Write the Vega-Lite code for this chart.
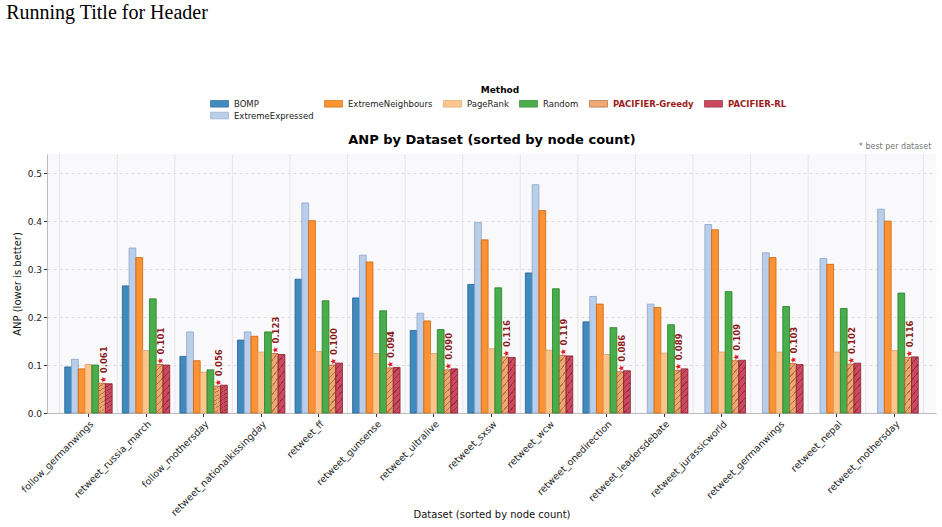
{
  "$schema": "https://vega.github.io/schema/vega-lite/v6.json",
  "width": 889,
  "height": 259,
  "autosize": {"type": "none"},
  "padding": {"left": 47, "top": 154, "right": 6, "bottom": 114},
  "background": "white",
  "config": {
    "font": "DejaVu Sans",
    "view": {"fill": "#f9f9fc", "stroke": null},
    "axis": {"labelFont": "DejaVu Sans", "titleFont": "DejaVu Sans", "labelColor": "#222", "titleColor": "#111", "tickColor": "#333", "domainColor": "#bbbbbb", "titleFontWeight": "normal"}
  },
  "title": {
    "text": "Running Title for Header",
    "anchor": "start",
    "frame": "bounds",
    "font": "Liberation Serif",
    "fontSize": 20,
    "fontWeight": "normal",
    "color": "#000",
    "offset": 63,
    "dx": -6
  },
  "datasets": {
    "anp": [
      {"dataset": "follow_germanwings", "method": "BOMP", "anp": 0.096},
      {"dataset": "follow_germanwings", "method": "ExtremeExpressed", "anp": 0.112},
      {"dataset": "follow_germanwings", "method": "ExtremeNeighbours", "anp": 0.092},
      {"dataset": "follow_germanwings", "method": "PageRank", "anp": 0.101},
      {"dataset": "follow_germanwings", "method": "Random", "anp": 0.100},
      {"dataset": "follow_germanwings", "method": "PACIFIER-Greedy", "anp": 0.062},
      {"dataset": "follow_germanwings", "method": "PACIFIER-RL", "anp": 0.061},
      {"dataset": "retweet_russia_march", "method": "BOMP", "anp": 0.265},
      {"dataset": "retweet_russia_march", "method": "ExtremeExpressed", "anp": 0.344},
      {"dataset": "retweet_russia_march", "method": "ExtremeNeighbours", "anp": 0.324},
      {"dataset": "retweet_russia_march", "method": "PageRank", "anp": 0.130},
      {"dataset": "retweet_russia_march", "method": "Random", "anp": 0.238},
      {"dataset": "retweet_russia_march", "method": "PACIFIER-Greedy", "anp": 0.101},
      {"dataset": "retweet_russia_march", "method": "PACIFIER-RL", "anp": 0.100},
      {"dataset": "follow_mothersday", "method": "BOMP", "anp": 0.118},
      {"dataset": "follow_mothersday", "method": "ExtremeExpressed", "anp": 0.169},
      {"dataset": "follow_mothersday", "method": "ExtremeNeighbours", "anp": 0.109},
      {"dataset": "follow_mothersday", "method": "PageRank", "anp": 0.085},
      {"dataset": "follow_mothersday", "method": "Random", "anp": 0.090},
      {"dataset": "follow_mothersday", "method": "PACIFIER-Greedy", "anp": 0.056},
      {"dataset": "follow_mothersday", "method": "PACIFIER-RL", "anp": 0.058},
      {"dataset": "retweet_nationalkissingday", "method": "BOMP", "anp": 0.152},
      {"dataset": "retweet_nationalkissingday", "method": "ExtremeExpressed", "anp": 0.169},
      {"dataset": "retweet_nationalkissingday", "method": "ExtremeNeighbours", "anp": 0.160},
      {"dataset": "retweet_nationalkissingday", "method": "PageRank", "anp": 0.127},
      {"dataset": "retweet_nationalkissingday", "method": "Random", "anp": 0.169},
      {"dataset": "retweet_nationalkissingday", "method": "PACIFIER-Greedy", "anp": 0.124},
      {"dataset": "retweet_nationalkissingday", "method": "PACIFIER-RL", "anp": 0.122},
      {"dataset": "retweet_ff", "method": "BOMP", "anp": 0.279},
      {"dataset": "retweet_ff", "method": "ExtremeExpressed", "anp": 0.438},
      {"dataset": "retweet_ff", "method": "ExtremeNeighbours", "anp": 0.401},
      {"dataset": "retweet_ff", "method": "PageRank", "anp": 0.128},
      {"dataset": "retweet_ff", "method": "Random", "anp": 0.234},
      {"dataset": "retweet_ff", "method": "PACIFIER-Greedy", "anp": 0.100},
      {"dataset": "retweet_ff", "method": "PACIFIER-RL", "anp": 0.104},
      {"dataset": "retweet_gunsense", "method": "BOMP", "anp": 0.240},
      {"dataset": "retweet_gunsense", "method": "ExtremeExpressed", "anp": 0.329},
      {"dataset": "retweet_gunsense", "method": "ExtremeNeighbours", "anp": 0.315},
      {"dataset": "retweet_gunsense", "method": "PageRank", "anp": 0.124},
      {"dataset": "retweet_gunsense", "method": "Random", "anp": 0.213},
      {"dataset": "retweet_gunsense", "method": "PACIFIER-Greedy", "anp": 0.094},
      {"dataset": "retweet_gunsense", "method": "PACIFIER-RL", "anp": 0.095},
      {"dataset": "retweet_ultralive", "method": "BOMP", "anp": 0.172},
      {"dataset": "retweet_ultralive", "method": "ExtremeExpressed", "anp": 0.208},
      {"dataset": "retweet_ultralive", "method": "ExtremeNeighbours", "anp": 0.192},
      {"dataset": "retweet_ultralive", "method": "PageRank", "anp": 0.124},
      {"dataset": "retweet_ultralive", "method": "Random", "anp": 0.174},
      {"dataset": "retweet_ultralive", "method": "PACIFIER-Greedy", "anp": 0.090},
      {"dataset": "retweet_ultralive", "method": "PACIFIER-RL", "anp": 0.092},
      {"dataset": "retweet_sxsw", "method": "BOMP", "anp": 0.268},
      {"dataset": "retweet_sxsw", "method": "ExtremeExpressed", "anp": 0.397},
      {"dataset": "retweet_sxsw", "method": "ExtremeNeighbours", "anp": 0.361},
      {"dataset": "retweet_sxsw", "method": "PageRank", "anp": 0.134},
      {"dataset": "retweet_sxsw", "method": "Random", "anp": 0.261},
      {"dataset": "retweet_sxsw", "method": "PACIFIER-Greedy", "anp": 0.117},
      {"dataset": "retweet_sxsw", "method": "PACIFIER-RL", "anp": 0.116},
      {"dataset": "retweet_wcw", "method": "BOMP", "anp": 0.292},
      {"dataset": "retweet_wcw", "method": "ExtremeExpressed", "anp": 0.476},
      {"dataset": "retweet_wcw", "method": "ExtremeNeighbours", "anp": 0.422},
      {"dataset": "retweet_wcw", "method": "PageRank", "anp": 0.131},
      {"dataset": "retweet_wcw", "method": "Random", "anp": 0.259},
      {"dataset": "retweet_wcw", "method": "PACIFIER-Greedy", "anp": 0.120},
      {"dataset": "retweet_wcw", "method": "PACIFIER-RL", "anp": 0.119},
      {"dataset": "retweet_onedirection", "method": "BOMP", "anp": 0.190},
      {"dataset": "retweet_onedirection", "method": "ExtremeExpressed", "anp": 0.243},
      {"dataset": "retweet_onedirection", "method": "ExtremeNeighbours", "anp": 0.227},
      {"dataset": "retweet_onedirection", "method": "PageRank", "anp": 0.122},
      {"dataset": "retweet_onedirection", "method": "Random", "anp": 0.178},
      {"dataset": "retweet_onedirection", "method": "PACIFIER-Greedy", "anp": 0.086},
      {"dataset": "retweet_onedirection", "method": "PACIFIER-RL", "anp": 0.088},
      {"dataset": "retweet_leadersdebate", "method": "ExtremeExpressed", "anp": 0.227},
      {"dataset": "retweet_leadersdebate", "method": "ExtremeNeighbours", "anp": 0.220},
      {"dataset": "retweet_leadersdebate", "method": "PageRank", "anp": 0.125},
      {"dataset": "retweet_leadersdebate", "method": "Random", "anp": 0.184},
      {"dataset": "retweet_leadersdebate", "method": "PACIFIER-Greedy", "anp": 0.089},
      {"dataset": "retweet_leadersdebate", "method": "PACIFIER-RL", "anp": 0.092},
      {"dataset": "retweet_jurassicworld", "method": "ExtremeExpressed", "anp": 0.393},
      {"dataset": "retweet_jurassicworld", "method": "ExtremeNeighbours", "anp": 0.382},
      {"dataset": "retweet_jurassicworld", "method": "PageRank", "anp": 0.127},
      {"dataset": "retweet_jurassicworld", "method": "Random", "anp": 0.253},
      {"dataset": "retweet_jurassicworld", "method": "PACIFIER-Greedy", "anp": 0.109},
      {"dataset": "retweet_jurassicworld", "method": "PACIFIER-RL", "anp": 0.110},
      {"dataset": "retweet_germanwings", "method": "ExtremeExpressed", "anp": 0.334},
      {"dataset": "retweet_germanwings", "method": "ExtremeNeighbours", "anp": 0.324},
      {"dataset": "retweet_germanwings", "method": "PageRank", "anp": 0.127},
      {"dataset": "retweet_germanwings", "method": "Random", "anp": 0.222},
      {"dataset": "retweet_germanwings", "method": "PACIFIER-Greedy", "anp": 0.103},
      {"dataset": "retweet_germanwings", "method": "PACIFIER-RL", "anp": 0.101},
      {"dataset": "retweet_nepal", "method": "ExtremeExpressed", "anp": 0.322},
      {"dataset": "retweet_nepal", "method": "ExtremeNeighbours", "anp": 0.310},
      {"dataset": "retweet_nepal", "method": "PageRank", "anp": 0.127},
      {"dataset": "retweet_nepal", "method": "Random", "anp": 0.218},
      {"dataset": "retweet_nepal", "method": "PACIFIER-Greedy", "anp": 0.102},
      {"dataset": "retweet_nepal", "method": "PACIFIER-RL", "anp": 0.104},
      {"dataset": "retweet_mothersday", "method": "ExtremeExpressed", "anp": 0.425},
      {"dataset": "retweet_mothersday", "method": "ExtremeNeighbours", "anp": 0.400},
      {"dataset": "retweet_mothersday", "method": "PageRank", "anp": 0.130},
      {"dataset": "retweet_mothersday", "method": "Random", "anp": 0.250},
      {"dataset": "retweet_mothersday", "method": "PACIFIER-Greedy", "anp": 0.116},
      {"dataset": "retweet_mothersday", "method": "PACIFIER-RL", "anp": 0.117}
    ],
    "best": [
      {"dataset": "follow_germanwings", "method": "PACIFIER-Greedy", "anp": 0.062, "star": "★", "label": "0.061"},
      {"dataset": "retweet_russia_march", "method": "PACIFIER-Greedy", "anp": 0.101, "star": "★", "label": "0.101"},
      {"dataset": "follow_mothersday", "method": "PACIFIER-Greedy", "anp": 0.056, "star": "★", "label": "0.056"},
      {"dataset": "retweet_nationalkissingday", "method": "PACIFIER-Greedy", "anp": 0.124, "star": "★", "label": "0.123"},
      {"dataset": "retweet_ff", "method": "PACIFIER-Greedy", "anp": 0.100, "star": "★", "label": "0.100"},
      {"dataset": "retweet_gunsense", "method": "PACIFIER-Greedy", "anp": 0.094, "star": "★", "label": "0.094"},
      {"dataset": "retweet_ultralive", "method": "PACIFIER-Greedy", "anp": 0.090, "star": "★", "label": "0.090"},
      {"dataset": "retweet_sxsw", "method": "PACIFIER-Greedy", "anp": 0.117, "star": "★", "label": "0.116"},
      {"dataset": "retweet_wcw", "method": "PACIFIER-Greedy", "anp": 0.120, "star": "★", "label": "0.119"},
      {"dataset": "retweet_onedirection", "method": "PACIFIER-Greedy", "anp": 0.086, "star": "★", "label": "0.086"},
      {"dataset": "retweet_leadersdebate", "method": "PACIFIER-Greedy", "anp": 0.089, "star": "★", "label": "0.089"},
      {"dataset": "retweet_jurassicworld", "method": "PACIFIER-Greedy", "anp": 0.109, "star": "★", "label": "0.109"},
      {"dataset": "retweet_germanwings", "method": "PACIFIER-Greedy", "anp": 0.103, "star": "★", "label": "0.103"},
      {"dataset": "retweet_nepal", "method": "PACIFIER-Greedy", "anp": 0.102, "star": "★", "label": "0.102"},
      {"dataset": "retweet_mothersday", "method": "PACIFIER-Greedy", "anp": 0.116, "star": "★", "label": "0.116"}
    ],
    "names": [
      {"dataset": "follow_germanwings"}, {"dataset": "retweet_russia_march"}, {"dataset": "follow_mothersday"},
      {"dataset": "retweet_nationalkissingday"}, {"dataset": "retweet_ff"}, {"dataset": "retweet_gunsense"},
      {"dataset": "retweet_ultralive"}, {"dataset": "retweet_sxsw"}, {"dataset": "retweet_wcw"},
      {"dataset": "retweet_onedirection"}, {"dataset": "retweet_leadersdebate"}, {"dataset": "retweet_jurassicworld"},
      {"dataset": "retweet_germanwings"}, {"dataset": "retweet_nepal"}, {"dataset": "retweet_mothersday"}
    ],
    "note": [{"dataset": "retweet_mothersday", "anp": 0.54, "text": "* best per dataset"}]
  },
  "resolve": {"axis": {"x": "independent"}},
  "layer": [
    {
      "data": {"name": "names"},
      "mark": {"type": "rule", "color": "#e6e6ea", "strokeWidth": 1},
      "encoding": {
        "x": {
          "field": "dataset", "type": "nominal", "bandPosition": 0,
          "scale": {"domain": ["follow_germanwings", "retweet_russia_march", "follow_mothersday", "retweet_nationalkissingday", "retweet_ff", "retweet_gunsense", "retweet_ultralive", "retweet_sxsw", "retweet_wcw", "retweet_onedirection", "retweet_leadersdebate", "retweet_jurassicworld", "retweet_germanwings", "retweet_nepal", "retweet_mothersday"], "paddingInner": 0, "paddingOuter": 0.22},
          "axis": {"orient": "top", "labels": false, "ticks": false, "domain": false, "grid": false, "title": "ANP by Dataset (sorted by node count)", "titleFontSize": 13, "titleFontWeight": "bold", "titleColor": "#000", "titlePadding": 8}
        }
      }
    },
    {
      "data": {"name": "note"},
      "mark": {"type": "rule", "color": "#e6e6ea", "strokeWidth": 1},
      "encoding": {
        "x": {"field": "dataset", "type": "nominal", "bandPosition": 1, "axis": null}
      }
    },
    {
      "data": {"name": "anp"},
      "mark": {"type": "bar", "fillOpacity": 0.85, "strokeWidth": 0.8},
      "encoding": {
        "x": {
          "field": "dataset", "type": "nominal",
          "axis": {"orient": "bottom", "title": "Dataset (sorted by node count)", "labelAngle": -45, "labelAlign": "right", "labelBaseline": "top", "labelFontSize": 9.5, "labelPadding": 2, "tickSize": 3.5, "grid": false, "titleFontSize": 10, "titleY": 96, "titleBaseline": "top"}
        },
        "xOffset": {
          "field": "method", "type": "nominal",
          "scale": {"domain": ["BOMP", "ExtremeExpressed", "ExtremeNeighbours", "PageRank", "Random", "PACIFIER-Greedy", "PACIFIER-RL"], "paddingInner": 0, "paddingOuter": 0.75}
        },
        "y": {
          "field": "anp", "type": "quantitative",
          "scale": {"domain": [0, 0.54], "nice": false},
          "axis": {"title": "ANP (lower is better)", "values": [0, 0.1, 0.2, 0.3, 0.4, 0.5], "format": ".1f", "grid": true, "gridDash": [3, 3], "gridColor": "#dddddd", "tickSize": 3.5, "labelFontSize": 9, "labelPadding": 2, "titleFontSize": 10, "titlePadding": 5}
        },
        "color": {
          "condition": [
            {"test": "datum.method === 'PACIFIER-Greedy'", "value": {"gradient": "linear", "x1": 0, "y1": 0, "x2": 0.17, "y2": 1.13, "stops": [
              {"offset": 0, "color": "#ea9a5c"},
              {"offset": 0.1, "color": "#ea9a5c"}, {"offset": 0.1, "color": "#a85e26"}, {"offset": 0.125, "color": "#a85e26"}, {"offset": 0.125, "color": "#ea9a5c"},
              {"offset": 0.225, "color": "#ea9a5c"}, {"offset": 0.225, "color": "#a85e26"}, {"offset": 0.25, "color": "#a85e26"}, {"offset": 0.25, "color": "#ea9a5c"},
              {"offset": 0.35, "color": "#ea9a5c"}, {"offset": 0.35, "color": "#a85e26"}, {"offset": 0.375, "color": "#a85e26"}, {"offset": 0.375, "color": "#ea9a5c"},
              {"offset": 0.475, "color": "#ea9a5c"}, {"offset": 0.475, "color": "#a85e26"}, {"offset": 0.5, "color": "#a85e26"}, {"offset": 0.5, "color": "#ea9a5c"},
              {"offset": 0.6, "color": "#ea9a5c"}, {"offset": 0.6, "color": "#a85e26"}, {"offset": 0.625, "color": "#a85e26"}, {"offset": 0.625, "color": "#ea9a5c"},
              {"offset": 0.725, "color": "#ea9a5c"}, {"offset": 0.725, "color": "#a85e26"}, {"offset": 0.75, "color": "#a85e26"}, {"offset": 0.75, "color": "#ea9a5c"},
              {"offset": 0.85, "color": "#ea9a5c"}, {"offset": 0.85, "color": "#a85e26"}, {"offset": 0.875, "color": "#a85e26"}, {"offset": 0.875, "color": "#ea9a5c"},
              {"offset": 0.975, "color": "#ea9a5c"}, {"offset": 0.975, "color": "#a85e26"}, {"offset": 1, "color": "#a85e26"}
            ]}},
            {"test": "datum.method === 'PACIFIER-RL'", "value": {"gradient": "linear", "x1": 0, "y1": 0, "x2": 0.17, "y2": 1.13, "stops": [
              {"offset": 0, "color": "#c42a44"},
              {"offset": 0.1, "color": "#c42a44"}, {"offset": 0.1, "color": "#7c1224"}, {"offset": 0.125, "color": "#7c1224"}, {"offset": 0.125, "color": "#c42a44"},
              {"offset": 0.225, "color": "#c42a44"}, {"offset": 0.225, "color": "#7c1224"}, {"offset": 0.25, "color": "#7c1224"}, {"offset": 0.25, "color": "#c42a44"},
              {"offset": 0.35, "color": "#c42a44"}, {"offset": 0.35, "color": "#7c1224"}, {"offset": 0.375, "color": "#7c1224"}, {"offset": 0.375, "color": "#c42a44"},
              {"offset": 0.475, "color": "#c42a44"}, {"offset": 0.475, "color": "#7c1224"}, {"offset": 0.5, "color": "#7c1224"}, {"offset": 0.5, "color": "#c42a44"},
              {"offset": 0.6, "color": "#c42a44"}, {"offset": 0.6, "color": "#7c1224"}, {"offset": 0.625, "color": "#7c1224"}, {"offset": 0.625, "color": "#c42a44"},
              {"offset": 0.725, "color": "#c42a44"}, {"offset": 0.725, "color": "#7c1224"}, {"offset": 0.75, "color": "#7c1224"}, {"offset": 0.75, "color": "#c42a44"},
              {"offset": 0.85, "color": "#c42a44"}, {"offset": 0.85, "color": "#7c1224"}, {"offset": 0.875, "color": "#7c1224"}, {"offset": 0.875, "color": "#c42a44"},
              {"offset": 0.975, "color": "#c42a44"}, {"offset": 0.975, "color": "#7c1224"}, {"offset": 1, "color": "#7c1224"}
            ]}}
          ],
          "field": "method", "type": "nominal",
          "scale": {
            "domain": ["BOMP", "ExtremeNeighbours", "PageRank", "Random", "PACIFIER-Greedy", "PACIFIER-RL", "ExtremeExpressed"],
            "range": ["#1f77b4", "#ff7f0e", "#ffbb78", "#2ca02c", "#ea9a5c", "#c42a44", "#aec7e8"]
          },
          "legend": {
            "title": "Method", "orient": "none", "legendX": 166, "legendY": -68, "direction": "horizontal", "columns": 6, "gridAlign": "each",
            "titleAnchor": "middle", "titleFontSize": 9, "titleFontWeight": "bold", "titleColor": "#000", "titlePadding": 2,
            "labelFontSize": 8.5, "labelColor": "#222", "labelOffset": 8, "symbolType": "M-1.5,-0.55H1.5V0.55H-1.5Z", "symbolSize": 144,
            "symbolOpacity": 0.85, "symbolStrokeWidth": 0.8, "columnPadding": 8, "rowPadding": 0, "padding": 0,
            "encode": {
              "labels": {"update": {
                "fill": {"signal": "indexof(['PACIFIER-Greedy','PACIFIER-RL'], datum.value) >= 0 ? '#9b1b1b' : '#222222'"},
                "fontWeight": {"signal": "indexof(['PACIFIER-Greedy','PACIFIER-RL'], datum.value) >= 0 ? 'bold' : 'normal'"}
              }},
              "symbols": {"update": {
                "stroke": {"scale": "stroke", "field": "value"},
                "fill": [
                  {"test": "datum.value === 'PACIFIER-Greedy'", "value": {"gradient": "linear", "x1": 0, "y1": 0, "x2": 1, "y2": 0.36, "stops": [
                    {"offset": 0, "color": "#ea9a5c"}, {"offset": 0.42, "color": "#ea9a5c"}, {"offset": 0.42, "color": "#a85e26"}, {"offset": 0.48, "color": "#a85e26"}, {"offset": 0.48, "color": "#ea9a5c"}, {"offset": 1, "color": "#ea9a5c"}
                  ]}},
                  {"test": "datum.value === 'PACIFIER-RL'", "value": {"gradient": "linear", "x1": 0, "y1": 0, "x2": 1, "y2": 0.36, "stops": [
                    {"offset": 0, "color": "#c42a44"}, {"offset": 0.42, "color": "#c42a44"}, {"offset": 0.42, "color": "#7c1224"}, {"offset": 0.48, "color": "#7c1224"}, {"offset": 0.48, "color": "#c42a44"}, {"offset": 1, "color": "#c42a44"}
                  ]}},
                  {"scale": "color", "field": "value"}
                ]
              }}
            }
          }
        },
        "stroke": {
          "field": "method", "type": "nominal",
          "scale": {
            "domain": ["BOMP", "ExtremeNeighbours", "PageRank", "Random", "PACIFIER-Greedy", "PACIFIER-RL", "ExtremeExpressed"],
            "range": ["#25608f", "#c9640c", "#d9a26a", "#237f23", "#b0642e", "#8a1d2d", "#8ea6c6"]
          },
          "legend": null
        }
      }
    },
    {
      "data": {"name": "best"},
      "mark": {"type": "text", "angle": 270, "align": "left", "baseline": "middle", "fontSize": 8, "color": "#e01010", "dx": 0, "dy": 1.5},
      "encoding": {
        "x": {"field": "dataset", "type": "nominal", "axis": null},
        "xOffset": {"field": "method", "type": "nominal"},
        "y": {"field": "anp", "type": "quantitative", "title": "ANP (lower is better)"},
        "text": {"field": "star"}
      }
    },
    {
      "data": {"name": "best"},
      "mark": {"type": "text", "angle": 270, "align": "left", "baseline": "middle", "fontSize": 8.5, "fontWeight": "bold", "color": "#8b1a1a", "dx": 10, "dy": 1.5},
      "encoding": {
        "x": {"field": "dataset", "type": "nominal", "axis": null},
        "xOffset": {"field": "method", "type": "nominal"},
        "y": {"field": "anp", "type": "quantitative", "title": "ANP (lower is better)"},
        "text": {"field": "label"}
      }
    },
    {
      "data": {"name": "note"},
      "mark": {"type": "text", "align": "right", "baseline": "bottom", "fontSize": 8, "color": "#777777", "dx": 8, "dy": -3},
      "encoding": {
        "x": {"field": "dataset", "type": "nominal", "bandPosition": 1, "axis": null},
        "y": {"field": "anp", "type": "quantitative", "title": "ANP (lower is better)"},
        "text": {"field": "text"}
      }
    }
  ]
}
